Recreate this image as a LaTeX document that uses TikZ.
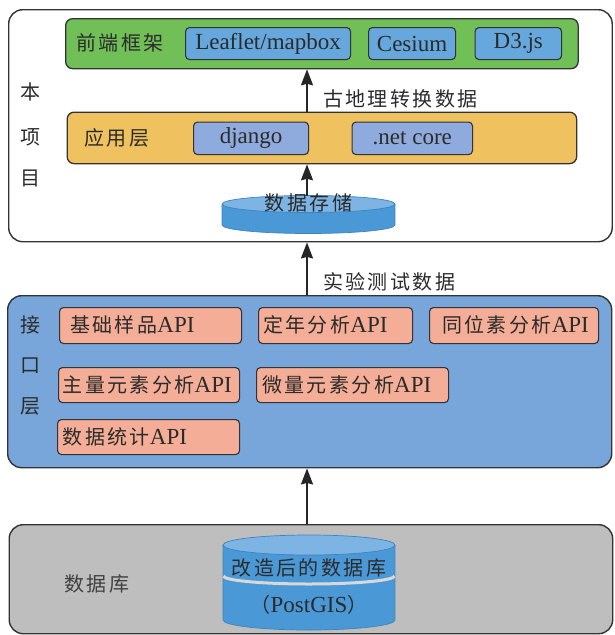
\documentclass[tikz,border=0pt]{standalone}
\usepackage{fontspec}
\setmainfont{Liberation Serif}
\newfontfamily\cjk[LetterSpace=12]{Noto Sans CJK SC}
\usetikzlibrary{arrows.meta}
\definecolor{lc}{HTML}{333333}
\definecolor{tc}{HTML}{2B2B2B}
\definecolor{greenL}{HTML}{70BF57}
\definecolor{blueB}{HTML}{66A8DD}
\definecolor{yellowL}{HTML}{EFC25F}
\definecolor{periB}{HTML}{8FAADC}
\definecolor{ifaceB}{HTML}{78A6DA}
\definecolor{salmon}{HTML}{F4AD97}
\definecolor{dbgray}{HTML}{BEBEBE}
\definecolor{cylbody}{HTML}{4A98D5}
\definecolor{cyltop}{HTML}{7DB4E3}
\definecolor{cyledge}{HTML}{3C84C0}
\definecolor{band}{HTML}{D8D8D8}
\newcommand\cjkf{\cjk\fontsize{20}{24}\selectfont}
\newcommand\latf{\rmfamily\fontsize{23}{27}\selectfont}
\tikzset{
  layer/.style={draw=lc, line width=1.3pt, rounded corners=7pt, anchor=north west, inner sep=0pt},
  outerbox/.style={draw=lc, line width=1.4pt, rounded corners=14pt, anchor=north west, inner sep=0pt},
  subbox/.style={draw=lc, line width=1.1pt, rounded corners=4pt, anchor=north west, inner sep=0pt, text=tc, font=\latf},
  cj/.style={font=\cjkf, text=tc, inner sep=0pt},
  apitext/.style={font=\cjkf, text=tc, inner sep=0pt, anchor=west},
  arr/.style={draw=black!85, line width=1.8pt, -{Stealth[length=16pt,width=12pt,inset=1.5pt]}},
}
\begin{document}
\begin{tikzpicture}[x=1pt,y=-1pt]
\useasboundingbox (0,0) rectangle (614,635);
\fill[white] (0,0) rectangle (614,635);

% ---------- project box ----------
\node[outerbox, minimum width=603.5pt, minimum height=232pt] (proj) at (8,9) {};
\node[layer, fill=greenL, minimum width=512.5pt, minimum height=50pt] (front) at (65,18) {};
\node[subbox, fill=blueB, minimum width=165pt, minimum height=32pt] (leaflet) at (185,27) {Leaflet/mapbox};
\node[subbox, fill=blueB, minimum width=87pt, minimum height=32pt] (cesium) at (368,27) {Cesium};
\node[subbox, fill=blueB, minimum width=86.5pt, minimum height=32pt] (d3) at (474.5,27) {D3.js};
\node[cj] (frontlbl) at (120,43) {前端框架};

\node[layer, fill=yellowL, minimum width=509.5pt, minimum height=51.5pt] (app) at (66.5,111.5) {};
\node[subbox, fill=periB, minimum width=115pt, minimum height=32.5pt] (django) at (193,121.5) {django};
\node[subbox, fill=periB, minimum width=120.5pt, minimum height=32.5pt] (netcore) at (351.5,121.5) {.net core};
\node[cj] (applbl) at (117,138) {应用层};

\node[cj] (pj1) at (30,92) {本};
\node[cj] (pj2) at (30,137) {项};
\node[cj] (pj3) at (30,178) {目};

% cylinder 1
\fill[cylbody] (308.5,225) ellipse [x radius=86.5pt, y radius=8.5pt];
\fill[cylbody] (222,204) rectangle (395,225);
\draw[cyledge, line width=0.7pt] (222,204) -- (222,225) arc[start angle=180, end angle=360, x radius=86.5pt, y radius=8.5pt] -- (395,204);
\filldraw[fill=cyltop, draw=cyledge, line width=0.7pt] (308.5,204) ellipse [x radius=86.5pt, y radius=8.5pt];
\node[cj] (store) at (308.5,203) {数据存储};
\coordinate (c1top) at (307,195.5);

\draw[arr] (c1top) -- (c1top |- app.south);
\draw[arr] (app.north -| c1top) -- (front.south -| c1top);
\node[cj, anchor=west] (geo) at (323,99) {古地理转换数据};

% ---------- interface layer ----------
\node[outerbox, fill=ifaceB, minimum width=604pt, minimum height=172pt] (iface) at (7,295) {};
\node[cj] (if1) at (30,325) {接};
\node[cj] (if2) at (30,366) {口};
\node[cj] (if3) at (30,406) {层};

\node[subbox, fill=salmon, minimum width=182pt, minimum height=36pt] (a1) at (59,307) {};
\node[apitext] (t1) at (70,325) {基础样品{\latf API}};
\node[subbox, fill=salmon, minimum width=154pt, minimum height=36pt] (a2) at (258,307) {};
\node[apitext] (t2) at (263,325) {定年分析{\latf API}};
\node[subbox, fill=salmon, minimum width=169pt, minimum height=36pt] (a3) at (429,307) {};
\node[apitext] (t3) at (442,325) {同位素分析{\latf API}};
\node[subbox, fill=salmon, minimum width=181pt, minimum height=35pt] (a4) at (58,367) {};
\node[apitext] (t4) at (62.5,384.5) {主量元素分析{\latf API}};
\node[subbox, fill=salmon, minimum width=192pt, minimum height=35pt] (a5) at (256,367) {};
\node[apitext] (t5) at (262,384.5) {微量元素分析{\latf API}};
\node[subbox, fill=salmon, minimum width=182pt, minimum height=35pt] (a6) at (57,419) {};
\node[apitext] (t6) at (62.5,436.5) {数据统计{\latf API}};

\draw[arr] (iface.north -| c1top) -- (proj.south -| c1top);
\node[cj, anchor=west] (exp) at (323,282) {实验测试数据};

% ---------- database ----------
\node[outerbox, fill=dbgray, minimum width=603.5pt, minimum height=109pt] (db) at (8.5,524) {};
\node[cj, text=black!75] (dblbl) at (97,584) {数据库};

\fill[cylbody] (309,620) ellipse [x radius=86pt, y radius=10pt];
\fill[cylbody] (223,545) rectangle (395,620);
\draw[cyledge, line width=0.7pt] (223,545) -- (223,620) arc[start angle=180, end angle=360, x radius=86pt, y radius=10pt] -- (395,545);
\filldraw[fill=cyltop, draw=cyledge, line width=0.7pt] (309,545) ellipse [x radius=86pt, y radius=10pt];
\draw[band, line width=3pt] (223.5,576) arc[start angle=180, end angle=360, x radius=85.5pt, y radius=8pt];
\node[cj] (pg1) at (309,568) {改造后的数据库};
\node[cj] (pg2) at (309,605) {（{\latf PostGIS}）};
\coordinate (c2top) at (307,524);

\draw[arr] (db.north -| c1top) -- (iface.south -| c1top);
\end{tikzpicture}
\end{document}
